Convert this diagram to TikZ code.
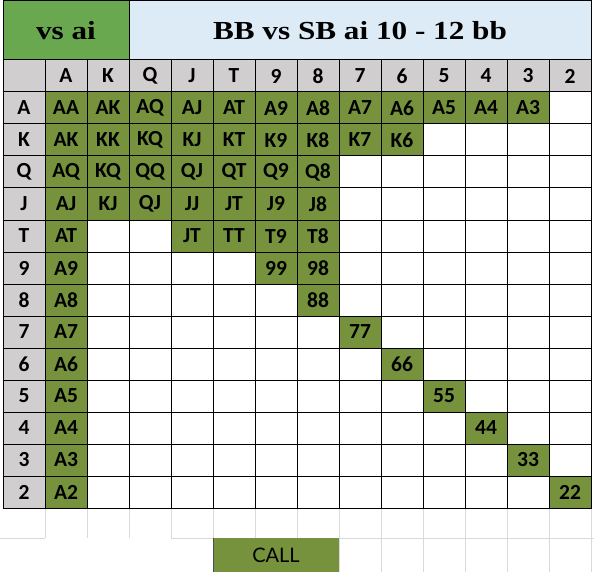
\documentclass[tikz,border=0pt]{standalone}
\usepackage{fontspec}
\setmainfont{Carlito}
\newfontfamily\titlefont{Liberation Serif}
\newfontfamily\callfont{Lato}
\definecolor{handgreen}{HTML}{76923C}
\definecolor{titlegreen}{HTML}{6AA84F}
\definecolor{titleblue}{HTML}{DDEBF7}
\definecolor{headgray}{HTML}{D0CECE}
\definecolor{faintgray}{HTML}{D9D9D9}
\newcommand\rk[1]{\ifcase#1\or A\or K\or Q\or J\or T\or 9\or 8\or 7\or 6\or 5\or 4\or 3\or 2\fi}
\tikzset{
  cellbox/.style={draw=black, line width=1pt, inner sep=0pt, outer sep=0pt,
    minimum width=42pt, minimum height=32pt, font=\fontsize{21.5}{21.5}\selectfont\bfseries},
  handcell/.style={cellbox, fill=handgreen},
  headcell/.style={cellbox, fill=headgray},
  titlebox/.style={draw=black, line width=1pt, inner sep=0pt, outer sep=0pt, minimum height=60pt,
    font=\titlefont\fontsize{26}{26}\selectfont\bfseries},
  faint/.style={draw=faintgray, line width=0.8pt},
  gridline/.style={draw=black, line width=1pt}
}
\begin{document}
\begin{tikzpicture}[x=1pt,y=-1pt]
\useasboundingbox (0,0) rectangle (594,572);
\fill[white] (0,0) rectangle (594,572);
% faint spreadsheet gridlines below the table
\foreach \x in {45,87,129,171} \draw[faint] (\x,508) -- (\x,538);
\foreach \x in {213,255,...,591} \draw[faint] (\x,508) -- (\x,572);
\draw[faint] (0,538) -- (45,538);
\draw[faint] (171,538) -- (594,538);
% title
\node[titlebox, fill=titlegreen, minimum width=126pt, anchor=north west] (vsai) at (3,0.5)
  {\scalebox{1.2}[1]{vs ai}};
\node[titlebox, fill=titleblue, minimum width=462pt, anchor=north west] (title) at (129,0.5)
  {\scalebox{1.2}[1]{BB vs SB ai 10 - 12 bb}};
% header row and column
\node[headcell] (corner) at (24,76) {};
\foreach \c in {1,...,13}
  \node[headcell] (col\c) at ({66+42*(\c-1)},76) {\rk{\c}};
\foreach \r in {1,...,13}
  \node[headcell] (row\r) at (24,{108+32*(\r-1)}) {\rk{\r}};
% table grid
\foreach \i in {0,...,14} \draw[gridline] ({3+42*\i},60) -- ({3+42*\i},508);
\foreach \j in {0,...,14} \draw[gridline] (3,{60+32*\j}) -- (591,{60+32*\j});
% hands played
\foreach \r/\cs in {1/{1,...,12},2/{1,...,9},3/{1,...,7},4/{1,...,7},5/{1,4,5,6,7},
  6/{1,6,7},7/{1,7},8/{1,8},9/{1,9},10/{1,10},11/{1,11},12/{1,12},13/{1,13}}
  \foreach \c in \cs
    \node[handcell] (h\r-\c) at ({66+42*(\c-1)},{108+32*(\r-1)})
      {\ifnum\r>\c \rk{\c}\rk{\r}\else\rk{\r}\rk{\c}\fi};
% legend
\node[fill=handgreen, inner sep=0pt, outer sep=0pt, minimum width=126pt, minimum height=35pt,
  font=\callfont\fontsize{20}{20}\selectfont, text=black, anchor=north west] (call) at (213,537.5) {CALL};
\draw[black!70, line width=0.8pt] (call.north west) -- (call.south west);
\end{tikzpicture}
\end{document}
